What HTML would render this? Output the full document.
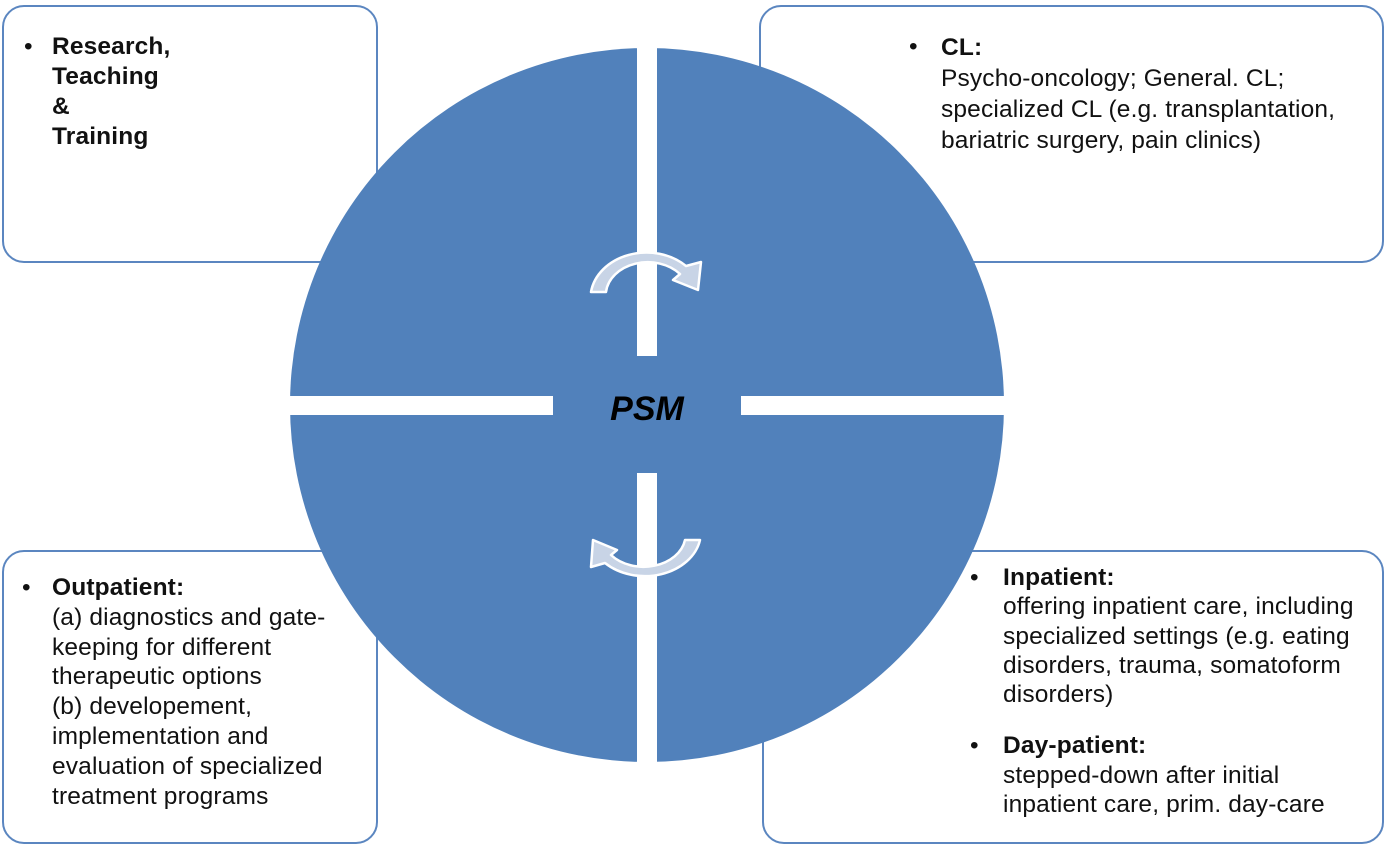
<!DOCTYPE html>
<html><head><meta charset="utf-8"><style>
body{margin:0;width:1388px;height:846px;background:#fff;position:relative;overflow:hidden;font-family:"Liberation Sans",sans-serif;}
.box{position:absolute;border:2px solid #5b86c0;border-radius:22px;background:#fff;box-sizing:border-box;}
.t{position:absolute;font-size:24.5px;line-height:30px;color:#111;white-space:nowrap;letter-spacing:0.15px;}
b{font-weight:bold;}
svg{position:absolute;left:0;top:0;}
</style></head><body>
<div class="box" style="left:2px;top:5px;width:376px;height:258px"></div>
<div class="box" style="left:759px;top:5px;width:625px;height:258px"></div>
<div class="box" style="left:2px;top:550px;width:376px;height:294px"></div>
<div class="box" style="left:762px;top:550px;width:622px;height:294px"></div>
<svg width="1388" height="846">
<circle cx="647" cy="405" r="357" fill="#5181bb"/>
<rect x="637" y="40" width="20" height="316" fill="#fff"/>
<rect x="637" y="473" width="20" height="300" fill="#fff"/>
<rect x="280" y="396" width="273" height="19" fill="#fff"/>
<rect x="741" y="396" width="273" height="19" fill="#fff"/>
<g fill="#c8d4e6" stroke="#fff" stroke-width="2.5" stroke-linejoin="round">
<path d="M591,292 A56,46 0 0 1 686,266 L701,262 L698,290 L673,280 L680,274 A42,33 0 0 0 606,292 Z"/>
<path d="M700,540 A56,44 0 0 1 605,563 L591,567 L593,540 L617,550 L611,555 A42,32 0 0 0 685,540 Z"/>
</g>
<text x="647" y="420" text-anchor="middle" font-family="Liberation Sans" font-size="34" font-weight="bold" font-style="italic" fill="#000">PSM</text>
</svg>
<div class="t" style="left:24px;top:32px">•</div>
<div class="t" style="left:52px;top:32px"><b>Research,<br>Teaching<br>&amp;<br>Training</b></div>
<div class="t" style="left:909px;top:32px">•</div>
<div class="t" style="left:941px;top:32px;line-height:31px"><b>CL:</b><br>Psycho-oncology; General. CL;<br>specialized CL (e.g. transplantation,<br>bariatric surgery, pain clinics)</div>
<div class="t" style="left:22px;top:573px">•</div>
<div class="t" style="left:52px;top:573px;line-height:29.8px"><b>Outpatient:</b><br>(a) diagnostics and gate-<br>keeping for different<br>therapeutic options<br>(b) developement,<br>implementation and<br>evaluation of specialized<br>treatment programs</div>
<div class="t" style="left:970px;top:563px">•</div>
<div class="t" style="left:1003px;top:563px;line-height:29.3px"><b>Inpatient:</b><br>offering inpatient care, including<br>specialized settings (e.g. eating<br>disorders, trauma, somatoform<br>disorders)</div>
<div class="t" style="left:970px;top:731px">•</div>
<div class="t" style="left:1003px;top:731px;line-height:29.5px"><b>Day-patient:</b><br>stepped-down after initial<br>inpatient care, prim. day-care</div>
</body></html>
